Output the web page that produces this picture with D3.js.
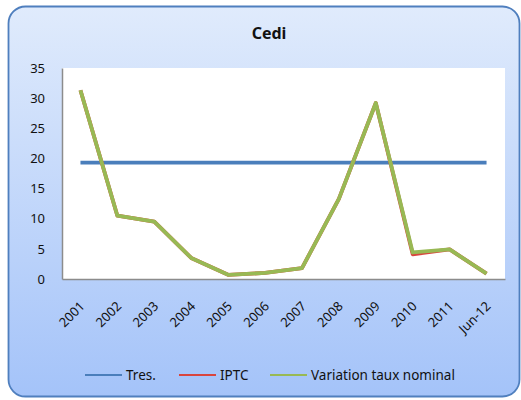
<!DOCTYPE html>
<html>
<head>
	<meta charset="utf-8">
	<title>Cedi</title>
	<script type="text/javascript" src="https://cdn.jsdelivr.net/npm/d3@7"></script>
	<style>
		body { margin: 0; }
		text { font-family: "Noto Sans", "DejaVu Sans", sans-serif; fill: #111; }
	</style>
</head>
<body>
	<script type="text/javascript">
		var width = 521,
			height = 400;

		var categories = ['2001', '2002', '2003', '2004', '2005', '2006', '2007', '2008', '2009', '2010', '2011', 'Jun-12'];
		var tres = [19.3, 19.3, 19.3, 19.3, 19.3, 19.3, 19.3, 19.3, 19.3, 19.3, 19.3, 19.3];
		var iptc = [31.3, 10.5, 9.5, 3.5, 0.7, 1.0, 1.8, 13.3, 29.2, 4.1, 4.9, 0.9];
		var variation = [31.3, 10.5, 9.5, 3.5, 0.7, 1.0, 1.8, 13.3, 29.2, 4.4, 4.9, 0.9];
		var yTicks = [0, 5, 10, 15, 20, 25, 30, 35];

		var series = [
			{name : 'Tres.', values : tres, color : '#4a7ebb'},
			{name : 'IPTC', values : iptc, color : '#d9453d'},
			{name : 'Variation taux nominal', values : variation, color : '#98b954'}
		];

		var padding = {top : 68, right : 16, bottom : 121, left : 62};

		var svg = d3.select('body')
					.append('svg')
					.attr('width', width)
					.attr('height', height);

		var defs = svg.append('defs');
		var grad = defs.append('linearGradient')
					.attr('id', 'bg')
					.attr('x1', 0).attr('y1', 0)
					.attr('x2', 0).attr('y2', 1);
		grad.append('stop').attr('offset', '0%').attr('stop-color', '#e0ebfc');
		grad.append('stop').attr('offset', '100%').attr('stop-color', '#a4c3f9');

		svg.append('rect')
			.attr('x', 8.5).attr('y', 6.5)
			.attr('width', 511).attr('height', 390)
			.attr('rx', 17).attr('ry', 17)
			.attr('fill', 'url(#bg)')
			.attr('stroke', '#4f7fbe')
			.attr('stroke-width', 1.8);

		svg.append('text')
			.attr('x', 269).attr('y', 39)
			.attr('text-anchor', 'middle')
			.style('font-size', '16px')
			.style('font-weight', 'bold')
			.text('Cedi');

		var x = d3.scaleBand()
				.domain(categories)
				.range([padding.left, width - padding.right]);
		var y = d3.scaleLinear()
				.domain([0, 35])
				.range([height - padding.bottom, padding.top]);

		// plot area
		svg.append('rect')
			.attr('x', padding.left)
			.attr('y', padding.top)
			.attr('width', width - padding.left - padding.right)
			.attr('height', height - padding.top - padding.bottom)
			.attr('fill', '#fff');

		var xAxis = svg.append('g')
			.attr('transform', 'translate(0,' + (height - padding.bottom) + ')')
			.call(d3.axisBottom(x).tickSize(0).tickPadding(0));
		xAxis.select('.domain').attr('stroke', '#8c8c8c').attr('stroke-width', 1.5);
		xAxis.selectAll('text')
			.attr('text-anchor', 'end')
			.attr('dy', 0)
			.attr('transform', 'translate(5,28) rotate(-45)')
			.style('font-size', '13px')
			.style('font-family', '"Noto Sans", sans-serif')
			.attr('fill', '#111');

		var yAxis = svg.append('g')
			.attr('transform', 'translate(' + padding.left + ',0)')
			.call(d3.axisLeft(y).tickValues(yTicks).tickSize(0).tickPadding(17));
		yAxis.select('.domain').attr('stroke', '#8c8c8c').attr('stroke-width', 1.5);
		yAxis.selectAll('text')
			.style('font-size', '13px')
			.style('font-family', '"Noto Sans", sans-serif')
			.attr('fill', '#111');

		var line = d3.line()
			.x(function(d, i){ return x(categories[i]) + x.bandwidth() / 2; })
			.y(function(d){ return y(d); });

		svg.selectAll('path.series')
			.data(series)
			.enter()
			.append('path')
			.attr('class', 'series')
			.attr('d', function(d){ return line(d.values); })
			.attr('fill', 'none')
			.attr('stroke', function(d){ return d.color; })
			.attr('stroke-width', 3.8)
			.attr('stroke-linejoin', 'round');

		// legend
		var legendX = [85, 179, 270];
		var legend = svg.selectAll('g.legend')
			.data(series)
			.enter()
			.append('g')
			.attr('class', 'legend')
			.attr('transform', function(d, i){ return 'translate(' + legendX[i] + ',375)'; });
		legend.append('line')
			.attr('x1', 0).attr('x2', 37)
			.attr('stroke', function(d){ return d.color; })
			.attr('stroke-width', 2);
		legend.append('text')
			.attr('x', 41)
			.attr('dy', '0.35em')
			.style('font-size', '13.5px')
			.text(function(d){ return d.name; });
	</script>
</body>
</html>
